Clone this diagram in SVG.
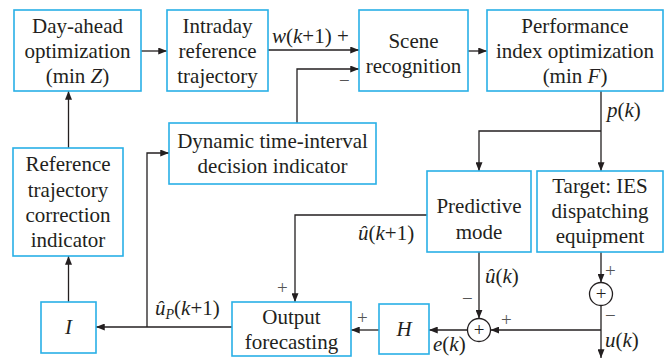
<svg xmlns="http://www.w3.org/2000/svg" width="665" height="358" viewBox="0 0 665 358">
<defs>
<marker id="ah" viewBox="0 0 10 8" refX="10" refY="4" markerWidth="9" markerHeight="7" markerUnits="userSpaceOnUse" orient="auto">
<path d="M0,0 L10,4 L0,8 Z" fill="#231f20"/>
</marker>
<style>
.box{fill:#fff;stroke:#29b0e6;stroke-width:1.6}
.t{font-family:'Liberation Serif',serif;font-size:21px;fill:#231f20;text-anchor:middle}
.l{font-family:'Liberation Serif',serif;font-size:21px;fill:#231f20}
.s{font-family:'Liberation Serif',serif;font-size:19px;fill:#555}
.i{font-style:italic}
.c{fill:none;stroke:#231f20;stroke-width:1.3}
.a{marker-end:url(#ah)}
</style>
</defs>
<rect width="665" height="358" fill="#fff"/>
<g id="connectors">
<path class="c a" d="M141,51 H167"/>
<path class="c a" d="M268,50 H359"/>
<path class="c a" d="M297,123 V69 H359"/>
<path class="c a" d="M468,51 H487"/>
<path class="c a" d="M601,91 V171"/>
<path class="c a" d="M601,131 H479 V171"/>
<path class="c a" d="M601,252 V282.5"/>
<path class="c a" d="M601,305.5 V358"/>
<path class="c a" d="M601,330 H490.5"/>
<path class="c a" d="M479,252 V318.5"/>
<path class="c a" d="M467.5,330 H429"/>
<path class="c a" d="M379,330 H351"/>
<path class="c a" d="M427,215 H295 V302"/>
<path class="c a" d="M232,327 H96"/>
<path class="c a" d="M147,327 V153 H169"/>
<path class="c a" d="M68.5,302 V256"/>
<path class="c a" d="M68.5,148 V91"/>
<circle class="c" cx="601" cy="294" r="11.5"/>
<circle class="c" cx="479" cy="330" r="11.5"/>
<text class="t" x="601" y="300" style="font-size:19px">+</text>
<text class="t" x="479" y="336" style="font-size:19px">+</text>
<text class="l" x="272" y="43"><tspan class="i">w</tspan>(<tspan class="i">k</tspan>+1) +</text>
<text class="s" x="339" y="87">−</text>
<text class="l" x="607" y="117"><tspan class="i">p</tspan>(<tspan class="i">k</tspan>)</text>
<text class="l" x="358" y="240"><tspan class="i">û</tspan>(<tspan class="i">k</tspan>+1)</text>
<text class="s" x="277" y="294">+</text>
<text class="l" x="155" y="315"><tspan class="i">û</tspan><tspan class="i" style="font-size:14px" dy="4">P</tspan><tspan dy="-4">(</tspan><tspan class="i">k</tspan>+1)</text>
<text class="l" x="485" y="283"><tspan class="i">û</tspan>(<tspan class="i">k</tspan>)</text>
<text class="s" x="462" y="305">−</text>
<text class="s" x="501" y="326">+</text>
<text class="l" x="433" y="351"><tspan class="i">e</tspan>(<tspan class="i">k</tspan>)</text>
<text class="s" x="357" y="324">+</text>
<text class="s" x="605" y="277">+</text>
<text class="s" x="605" y="322">−</text>
<text class="l" x="605" y="347"><tspan class="i">u</tspan>(<tspan class="i">k</tspan>)</text>
</g>
<g id="dayahead">
<rect class="box" x="14" y="10" width="127" height="81"/>
<text class="t" x="77.5" y="32.5">Day-ahead</text>
<text class="t" x="77.5" y="57.5">optimization</text>
<text class="t" x="77.5" y="83">(min <tspan class="i">Z</tspan>)</text>
</g>
<g id="intraday">
<rect class="box" x="167" y="10" width="101" height="81"/>
<text class="t" x="217.5" y="32.5">Intraday</text>
<text class="t" x="217.5" y="57.5">reference</text>
<text class="t" x="217.5" y="82.5">trajectory</text>
</g>
<g id="scene">
<rect class="box" x="359" y="10" width="109" height="81"/>
<text class="t" x="413.5" y="48">Scene</text>
<text class="t" x="413.5" y="73">recognition</text>
</g>
<g id="performance">
<rect class="box" x="487" y="10" width="176" height="81"/>
<text class="t" x="575" y="32.5">Performance</text>
<text class="t" x="575" y="57.5">index optimization</text>
<text class="t" x="575" y="82.5">(min <tspan class="i">F</tspan>)</text>
</g>
<g id="dynamic">
<rect class="box" x="169" y="123" width="207" height="61"/>
<text class="t" x="272.5" y="148">Dynamic time-interval</text>
<text class="t" x="272.5" y="173">decision indicator</text>
</g>
<g id="reference">
<rect class="box" x="13" y="148" width="110" height="108"/>
<text class="t" x="68" y="171">Reference</text>
<text class="t" x="68" y="196.5">trajectory</text>
<text class="t" x="68" y="221.5">correction</text>
<text class="t" x="68" y="246.5">indicator</text>
</g>
<g id="I">
<rect class="box" x="41" y="302" width="55" height="51"/>
<text class="t i" x="68.5" y="334">I</text>
</g>
<g id="output">
<rect class="box" x="232" y="302" width="119" height="54"/>
<text class="t" x="291.5" y="323.5">Output</text>
<text class="t" x="291.5" y="348.5">forecasting</text>
</g>
<g id="H">
<rect class="box" x="379" y="304" width="50" height="50"/>
<text class="t i" x="404" y="336">H</text>
</g>
<g id="predictive">
<rect class="box" x="427" y="171" width="104" height="81"/>
<text class="t" x="479" y="213">Predictive</text>
<text class="t" x="479" y="238.5">mode</text>
</g>
<g id="target">
<rect class="box" x="537" y="171" width="126" height="81"/>
<text class="t" x="600" y="193">Target: IES</text>
<text class="t" x="600" y="218">dispatching</text>
<text class="t" x="600" y="243">equipment</text>
</g>
</svg>
